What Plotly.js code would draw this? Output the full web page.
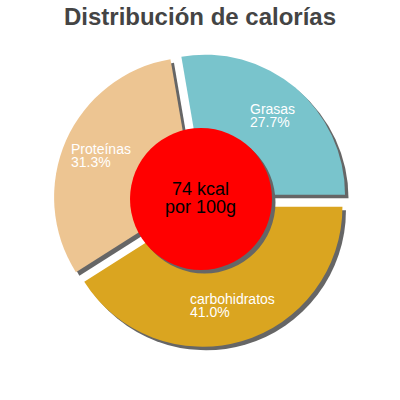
<!DOCTYPE html>
<html><head><meta charset="utf-8">
<script src="https://cdn.plot.ly/plotly-3.0.1.min.js"></script>
<style>html,body{margin:0;padding:0;background:#fff}#c{width:400px;height:400px}</style>
</head><body><div id="c"></div>
<script>
var labels = ["Grasas", "Proteínas", "carbohidratos"];
var values = [27.7, 31.3, 41.0];
var colors = ["#79C4CC", "#EDC592", "#DAA520"];
var centerText = ["74 kcal", "por 100g"];
var titleText = "Distribución de calorías";

var W = 400, H = 400;
var FONT = "Liberation Sans, Arial, sans-serif";
var cx = 200.5, cy = 200, R = 140, pull = 0.05;
var half = R * (1 + pull);
var sh = 3.5;
var dom = {x: [(cx - half) / W, (cx + half) / W], y: [1 - (cy + half) / H, 1 - (cy - half) / H]};
var domS = {x: [(cx - half + sh) / W, (cx + half + sh) / W], y: [1 - (cy + half + sh) / H, 1 - (cy - half + sh) / H]};
var pulls = labels.map(function(){return pull;});
var total = values.reduce(function(a,b){return a+b;},0);
var rot = 90 - 360 * values[0] / total;

var shadow = {type: "pie", values: values, labels: labels, sort: false, direction: "counterclockwise", rotation: rot,
  pull: pulls, domain: domS, marker: {colors: labels.map(function(){return "#666666";}), line: {width: 0}},
  textinfo: "none", hoverinfo: "skip", showlegend: false};
var main = {type: "pie", values: values, labels: labels, sort: false, direction: "counterclockwise", rotation: rot,
  pull: pulls, domain: dom, marker: {colors: colors, line: {width: 0}},
  textinfo: "none", hoverinfo: "label+percent", showlegend: false};

var ctx = document.createElement("canvas").getContext("2d");
function textW(s, size, bold) { ctx.font = (bold ? "bold " : "") + size + "px 'Liberation Sans'"; return ctx.measureText(s).width; }

var annotations = [];
var cum = 0, LS = 14, lineGap = 13;
for (var i = 0; i < values.length; i++) {
  var th = 2 * Math.PI * (cum + values[i] / 2) / total;
  cum += values[i];
  var d = R * pull + R * 0.736;
  var px = cx + d * Math.cos(th), py = cy - d * Math.sin(th);
  var lines = [labels[i], (values[i] / total * 100).toFixed(1) + "%"];
  var bw = Math.max(textW(lines[0], LS), textW(lines[1], LS));
  var left = px - bw / 2;
  for (var k = 0; k < lines.length; k++) {
    var ly = py + (k - 0.5) * lineGap;
    annotations.push({xref: "paper", yref: "paper", x: left / W, y: 1 - ly / H, xanchor: "left", yanchor: "middle",
      showarrow: false, text: lines[k], borderpad: 0,
      font: {family: FONT, size: LS, color: "#ffffff"}});
  }
}
var ccx = 201, ccy = 199, cr = 71;
for (var k = 0; k < centerText.length; k++) {
  var ly2 = ccy - 1 + (k - 0.5) * 17.5;
  annotations.push({xref: "paper", yref: "paper", x: (ccx - 0.5) / W, y: 1 - ly2 / H, xanchor: "center", yanchor: "middle",
    showarrow: false, text: centerText[k], borderpad: 0,
    font: {family: FONT, size: 18, color: "#000000"}});
}

var shapes = [
  {type: "circle", xref: "paper", yref: "paper", x0: (ccx - cr + sh) / W, x1: (ccx + cr + sh) / W,
    y0: 1 - (ccy + cr + sh) / H, y1: 1 - (ccy - cr + sh) / H, fillcolor: "#666666", line: {width: 0}},
  {type: "circle", xref: "paper", yref: "paper", x0: (ccx - cr) / W, x1: (ccx + cr) / W,
    y0: 1 - (ccy + cr) / H, y1: 1 - (ccy - cr) / H, fillcolor: "#ff0000", line: {width: 0}}
];

var layout = {width: W, height: H, margin: {l: 0, r: 0, t: 0, b: 0}, paper_bgcolor: "#ffffff",
  title: {text: "<b>" + titleText + "</b>", x: 0.5, xanchor: "center", yref: "container", y: 1 - 17 / H, yanchor: "middle",
    font: {family: FONT, size: 24, color: "#444444"}},
  annotations: annotations, shapes: shapes, showlegend: false};
Plotly.newPlot("c", [shadow, main], layout, {staticPlot: true});
</script></body></html>
